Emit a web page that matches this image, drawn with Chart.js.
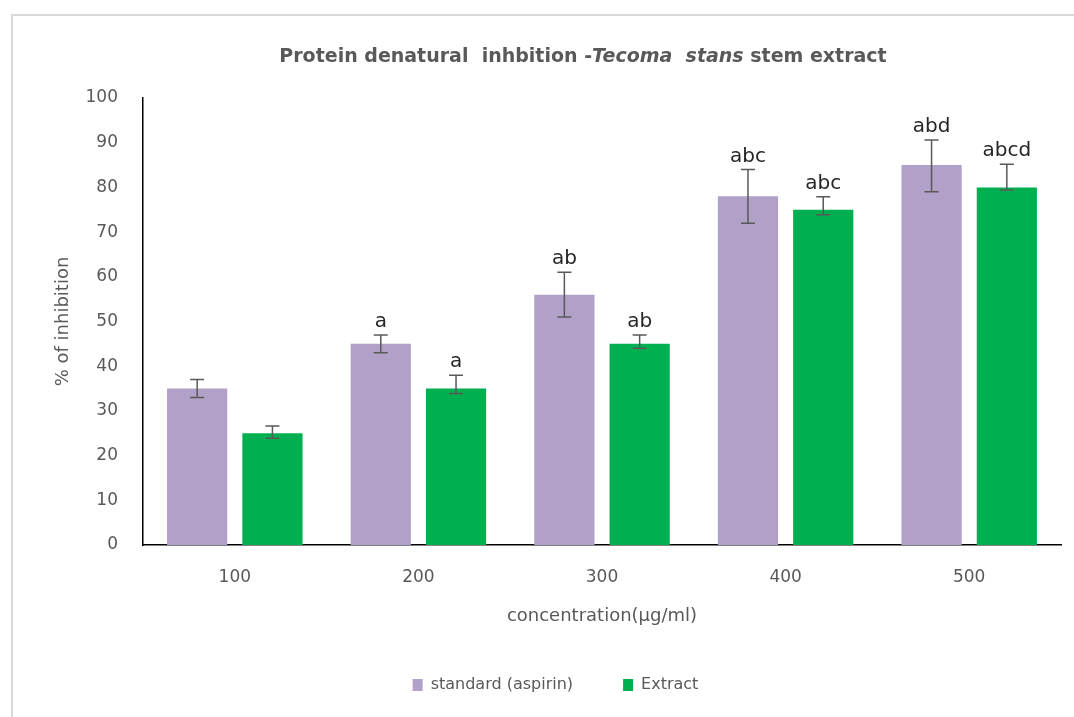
<!DOCTYPE html>
<html>
<head>
<meta charset="utf-8">
<script src="https://cdn.jsdelivr.net/npm/chart.js@4"></script>
<style>
  html, body { margin: 0; padding: 0; background: #fff; overflow: hidden; }
  #wrap { position: relative; width: 1074px; height: 717px; }
  #frame { position: absolute; left: 11px; top: 14px; right: -20px; bottom: -20px; border: 2px solid #d9d9d9; }
  #myChart { position: absolute; left: 0; top: 0; }
</style>
</head>
<body>
<div id="wrap">
  <div id="frame"></div>
  <canvas id="myChart" width="1074" height="717"></canvas>
</div>
<script>
// chart data
const concentrations = ["100", "200", "300", "400", "500"];
const standardValues = [35, 45, 56, 78, 85];
const standardErrPlus = [2, 2, 5, 6, 5.6];
const standardErrMinus = [2, 2, 5, 6, 6];
const extractValues = [25, 35, 45, 75, 80];
const extractErrPlus = [1.6, 3, 2, 2.9, 5.2];
const extractErrMinus = [1.1, 1.1, 1, 1.1, 0.6];
const standardLetters = ["", "a", "ab", "abc", "abd"];
const extractLetters = ["", "a", "ab", "abc", "abcd"];
const yTicks = [0, 10, 20, 30, 40, 50, 60, 70, 80, 90, 100];

const grey = "#595959";
const font = "'DejaVu Sans', sans-serif";

// error bars + significance letters
const errorBars = {
    id: "errorBars",
    afterDatasetsDraw(chart) {
        const ctx = chart.ctx;
        const y = chart.scales.y;
        chart.data.datasets.forEach((ds, i) => {
            const meta = chart.getDatasetMeta(i);
            meta.data.forEach((bar, j) => {
                const v = ds.data[j];
                const top = y.getPixelForValue(v + ds.errPlus[j]);
                const bot = y.getPixelForValue(v - ds.errMinus[j]);
                ctx.save();
                ctx.strokeStyle = grey;
                ctx.lineWidth = 1.5;
                ctx.beginPath();
                ctx.moveTo(bar.x, top); ctx.lineTo(bar.x, bot);
                ctx.moveTo(bar.x - 7, top); ctx.lineTo(bar.x + 7, top);
                ctx.moveTo(bar.x - 7, bot); ctx.lineTo(bar.x + 7, bot);
                ctx.stroke();
                if (ds.letters[j]) {
                    ctx.fillStyle = "#262626";
                    ctx.font = "20px " + font;
                    ctx.textAlign = "center";
                    ctx.textBaseline = "alphabetic";
                    ctx.fillText(ds.letters[j], bar.x, top - 8);
                }
                ctx.restore();
            });
        });
    }
};

// title with italic species name
const mixedTitle = {
    id: "mixedTitle",
    afterDraw(chart) {
        const ctx = chart.ctx;
        const parts = [
            ["bold 19px " + font, "Protein denatural  inhbition -"],
            ["italic bold 19px " + font, "Tecoma  stans"],
            ["bold 19px " + font, " stem extract"]
        ];
        ctx.save();
        let total = 0;
        parts.forEach(p => { ctx.font = p[0]; total += ctx.measureText(p[1]).width; });
        let x = 583 - total / 2;
        ctx.fillStyle = grey;
        ctx.textBaseline = "middle";
        ctx.textAlign = "left";
        parts.forEach(p => {
            ctx.font = p[0];
            ctx.fillText(p[1], x, 57);
            x += ctx.measureText(p[1]).width;
        });
        ctx.restore();
    }
};

new Chart(document.getElementById("myChart"), {
    type: "bar",
    data: {
        labels: concentrations,
        datasets: [
            {
                label: "standard (aspirin)",
                data: standardValues,
                errPlus: standardErrPlus,
                errMinus: standardErrMinus,
                letters: standardLetters,
                backgroundColor: "#b1a0c7",
                barPercentage: 0.8,
                categoryPercentage: 0.82
            },
            {
                label: "Extract",
                data: extractValues,
                errPlus: extractErrPlus,
                errMinus: extractErrMinus,
                letters: extractLetters,
                backgroundColor: "#00b050",
                barPercentage: 0.8,
                categoryPercentage: 0.82
            }
        ]
    },
    options: {
        responsive: false,
        animation: false,
        layout: { padding: { left: 50, right: 13, top: 98, bottom: 14 } },
        plugins: {
            title: { display: false },
            tooltip: { enabled: false },
            legend: {
                position: "bottom",
                labels: {
                    boxWidth: 10,
                    boxHeight: 12,
                    padding: 50,
                    color: grey,
                    font: { family: font, size: 16 }
                }
            }
        },
        scales: {
            x: {
                grid: { display: false, drawTicks: false },
                border: { display: true, color: "#000", width: 1.5 },
                ticks: { color: grey, padding: 22, font: { family: font, size: 17 } },
                title: {
                    display: true,
                    text: "concentration(µg/ml)",
                    color: grey,
                    font: { family: font, size: 18 },
                    padding: { top: 0, bottom: 0 }
                },
                afterFit(scale) { scale.height = 82; }
            },
            y: {
                min: 0,
                max: 100,
                afterBuildTicks(scale) { scale.ticks = yTicks.map(v => ({ value: v })); },
                grid: { display: false, drawTicks: false },
                border: { display: true, color: "#000", width: 1.5 },
                ticks: { color: grey, padding: 25, font: { family: font, size: 17 } },
                title: {
                    display: true,
                    text: "% of inhibition",
                    color: grey,
                    font: { family: font, size: 18 },
                    padding: { top: 3, bottom: 0 }
                },
                afterFit(scale) { scale.width = 93; }
            }
        }
    },
    plugins: [errorBars, mixedTitle]
});
</script>
</body>
</html>
